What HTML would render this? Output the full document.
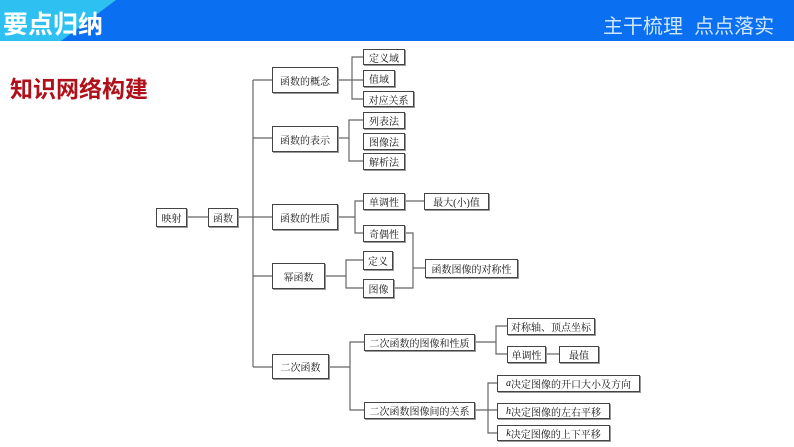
<!DOCTYPE html>
<html><head><meta charset="utf-8"><style>
body{margin:0;width:794px;height:447px;background:#fff;position:relative;overflow:hidden;font-family:"Liberation Serif","Noto Serif CJK SC",serif}
.b{position:absolute;border:1px solid #444;box-shadow:1px 1px 0 #999;background:#fff;font-size:10px;display:flex;align-items:center;justify-content:center;box-sizing:border-box;color:#111;white-space:nowrap}
svg{position:absolute;left:0;top:0}
</style></head><body>
<svg width="794" height="447">
<polygon points="0,0 794,0 794,41 0,41" fill="#0a6ff0"/>
<polygon points="0,0 116,0 61,41 0,41" fill="#2ec0f0"/>
<g stroke="#666" stroke-width="1.2" fill="none">
<line x1="186" y1="217" x2="208" y2="217"/>
<line x1="237" y1="217" x2="253" y2="217"/>
<line x1="253" y1="80" x2="253" y2="367"/>
<line x1="253" y1="80" x2="272" y2="80"/>
<line x1="253" y1="138" x2="272" y2="138"/>
<line x1="253" y1="217" x2="272" y2="217"/>
<line x1="253" y1="276" x2="272" y2="276"/>
<line x1="253" y1="367" x2="272" y2="367"/>
<line x1="337" y1="80" x2="363" y2="80"/>
<polyline points="363,57 352,57 352,99 363,99"/>
<line x1="337" y1="138" x2="349" y2="138"/>
<polyline points="363,120 349,120 349,161 363,161"/>
<polyline points="337,217 355,217"/>
<polyline points="363,201 355,201 355,233 363,233"/>
<line x1="404" y1="201" x2="424" y2="201"/>
<line x1="324" y1="276" x2="346" y2="276"/>
<polyline points="363,260 346,260 346,288 363,288"/>
<polyline points="404,233 413,233 413,288 393,288"/>
<line x1="413" y1="268" x2="425" y2="268"/>
<line x1="328" y1="367" x2="350" y2="367"/>
<polyline points="364,342 350,342 350,410 364,410"/>
<line x1="474" y1="342" x2="496" y2="342"/>
<polyline points="507,326 496,326 496,354 507,354"/>
<line x1="545" y1="354" x2="559" y2="354"/>
<line x1="474" y1="410" x2="497" y2="410"/>
<polyline points="497,383 488,383 488,433 497,433"/>
</g>
</svg>
<div style="position:absolute;left:3px;top:5px;font:bold 25px 'Liberation Sans','Noto Sans CJK SC',sans-serif;color:#fff">要点归纳</div>
<div style="position:absolute;left:603px;top:10px;font:20px 'Liberation Sans','Noto Sans CJK SC',sans-serif;color:#cfe6ff">主干梳理&nbsp;&nbsp;点点落实</div>
<div style="position:absolute;left:10px;top:70px;font:bold 23px 'Liberation Sans','Noto Sans CJK SC',sans-serif;color:#b0101a">知识网络构建</div>
<div class="b" style="left:156px;top:208px;width:31px;height:19px">映射</div>
<div class="b" style="left:208px;top:208px;width:30px;height:19px">函数</div>
<div class="b" style="left:272px;top:67px;width:66px;height:26px">函数的概念</div>
<div class="b" style="left:272px;top:126px;width:66px;height:26px">函数的表示</div>
<div class="b" style="left:272px;top:204px;width:66px;height:26px">函数的性质</div>
<div class="b" style="left:272px;top:263px;width:53px;height:26px">幂函数</div>
<div class="b" style="left:272px;top:354px;width:57px;height:25px">二次函数</div>
<div class="b" style="left:363px;top:49px;width:42px;height:16px">定义域</div>
<div class="b" style="left:363px;top:70px;width:32px;height:17px">值域</div>
<div class="b" style="left:363px;top:91px;width:51px;height:16px">对应关系</div>
<div class="b" style="left:363px;top:112px;width:42px;height:17px">列表法</div>
<div class="b" style="left:363px;top:133px;width:42px;height:17px">图像法</div>
<div class="b" style="left:363px;top:153px;width:42px;height:17px">解析法</div>
<div class="b" style="left:363px;top:193px;width:42px;height:17px">单调性</div>
<div class="b" style="left:424px;top:193px;width:65px;height:17px">最大(小)值</div>
<div class="b" style="left:363px;top:225px;width:42px;height:17px">奇偶性</div>
<div class="b" style="left:363px;top:251px;width:30px;height:19px">定义</div>
<div class="b" style="left:363px;top:279px;width:31px;height:19px">图像</div>
<div class="b" style="left:425px;top:259px;width:93px;height:19px">函数图像的对称性</div>
<div class="b" style="left:364px;top:334px;width:111px;height:17px">二次函数的图像和性质</div>
<div class="b" style="left:364px;top:402px;width:111px;height:17px">二次函数图像间的关系</div>
<div class="b" style="left:507px;top:318px;width:88px;height:17px">对称轴、顶点坐标</div>
<div class="b" style="left:507px;top:346px;width:39px;height:17px">单调性</div>
<div class="b" style="left:559px;top:346px;width:40px;height:17px">最值</div>
<div class="b" style="left:497px;top:375px;width:143px;height:17px"><i>a</i>决定图像的开口大小及方向</div>
<div class="b" style="left:497px;top:403px;width:113px;height:16px"><i>h</i>决定图像的左右平移</div>
<div class="b" style="left:497px;top:425px;width:113px;height:16px"><i>k</i>决定图像的上下平移</div>
</body></html>
